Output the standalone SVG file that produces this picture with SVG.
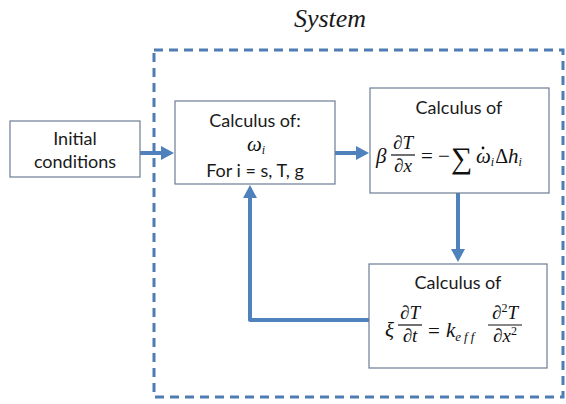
<svg xmlns="http://www.w3.org/2000/svg" width="566" height="404" viewBox="0 0 566 404">
<style>
.box{fill:#fff;stroke:#6c7c94;stroke-width:1.2}
.lbl{font-family:Lato,"Open Sans","Liberation Sans",sans-serif;font-size:18px;fill:#1a1a1a;text-anchor:middle}
.m{font-family:"Liberation Serif","DejaVu Serif",serif;fill:#111}
.mi{font-family:"Liberation Serif","DejaVu Serif",serif;font-style:italic;fill:#111}
.bar{stroke:#111;stroke-width:1.2}
.conn{fill:none;stroke:#4f81bd;stroke-width:4;stroke-linejoin:round}
</style>
<defs>
<marker id="ah" markerUnits="userSpaceOnUse" markerWidth="13" markerHeight="14" refX="1" refY="7" orient="auto">
<path d="M0,0 L13,7 L0,14 z" fill="#4f81bd"/>
</marker>
</defs>
<rect width="566" height="404" fill="#fff"/>
<g id="system">
<rect x="154" y="50" width="409" height="347" fill="none" stroke="#4f7cb3" stroke-width="3" stroke-dasharray="9,6"/>
<text x="330" y="27" font-family="'Liberation Serif',serif" font-style="italic" font-size="26" fill="#1a1a1a" text-anchor="middle">System</text>
</g>
<g id="connectors">
<line class="conn" x1="140" y1="153" x2="162" y2="153" marker-end="url(#ah)"/>
<line class="conn" x1="335" y1="153" x2="357" y2="153" marker-end="url(#ah)"/>
<line class="conn" x1="458" y1="193" x2="458" y2="250" marker-end="url(#ah)"/>
<path class="conn" d="M369,320 H250 V197" marker-end="url(#ah)"/>
</g>
<g id="initial">
<rect class="box" x="10" y="121" width="130" height="56"/>
<text class="lbl" x="75" y="145">Initial</text>
<text class="lbl" x="75" y="168">conditions</text>
</g>
<g id="calc-omega">
<rect class="box" x="175" y="101" width="160" height="83"/>
<text class="lbl" x="255" y="127">Calculus of:</text>
<text class="mi" x="247" y="151" font-size="21">ω<tspan font-size="12" dy="3">i</tspan></text>
<text class="lbl" x="255" y="177">For i = s, T, g</text>
</g>
<g id="calc-beta">
<rect class="box" x="370" y="88" width="179" height="105"/>
<text class="lbl" x="459" y="114">Calculus of</text>
<text class="mi" x="376" y="163" font-size="21">β</text>
<text class="mi" x="403" y="149" font-size="19" text-anchor="middle"><tspan font-style="normal">∂</tspan>T</text>
<line class="bar" x1="391" y1="155" x2="415" y2="155"/>
<text class="mi" x="403" y="172" font-size="19" text-anchor="middle"><tspan font-style="normal">∂</tspan>x</text>
<text class="m" x="421" y="163" font-size="21">=</text>
<text class="m" x="438" y="163" font-size="21">−</text>
<text class="m" x="451" y="168" font-size="30">∑</text>
<text class="mi" x="476" y="163" font-size="21">ω<tspan font-size="12" dy="3">i</tspan><tspan font-style="normal" font-size="20" dy="-3" dx="1">Δ</tspan>h<tspan font-size="12" dy="3">i</tspan></text>
<circle cx="483" cy="148" r="1.4" fill="#111"/>
</g>
<g id="calc-xi">
<rect class="box" x="369" y="264" width="178" height="104"/>
<text class="lbl" x="458" y="289">Calculus of</text>
<text class="mi" x="385" y="337" font-size="21">ξ</text>
<text class="mi" x="410" y="319" font-size="19" text-anchor="middle"><tspan font-style="normal">∂</tspan>T</text>
<line class="bar" x1="398" y1="325" x2="422" y2="325"/>
<text class="mi" x="410" y="342" font-size="19" text-anchor="middle"><tspan font-style="normal">∂</tspan>t</text>
<text class="m" x="428" y="338" font-size="21">=</text>
<text class="mi" x="446" y="337" font-size="21">k<tspan font-size="13" dy="4" letter-spacing="3">eff</tspan></text>
<text class="mi" x="505" y="319" font-size="19" text-anchor="middle"><tspan font-style="normal">∂</tspan><tspan font-style="normal" font-size="12" dy="-7">2</tspan><tspan dy="7">T</tspan></text>
<line class="bar" x1="488" y1="325" x2="522" y2="325"/>
<text class="mi" x="505" y="342" font-size="19" text-anchor="middle"><tspan font-style="normal">∂</tspan>x<tspan font-style="normal" font-size="12" dy="-7">2</tspan></text>
</g>
</svg>
